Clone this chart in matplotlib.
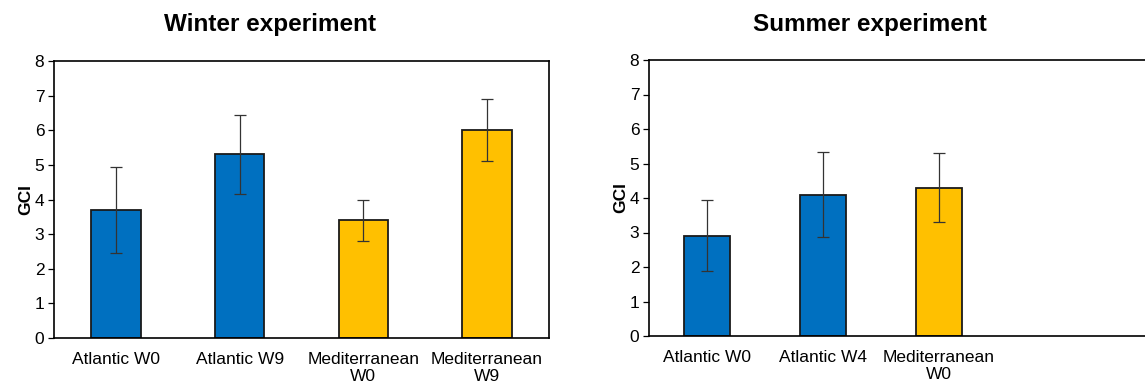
import matplotlib
matplotlib.use("Agg")
import matplotlib.pyplot as plt

plt.rcParams['font.family'] = ['Liberation Sans', 'DejaVu Sans']

winter_labels = ["Atlantic W0", "Atlantic W9", "Mediterranean\nW0", "Mediterranean\nW9"]
winter_values = [3.7, 5.3, 3.4, 6.0]
winter_errors = [1.25, 1.15, 0.6, 0.9]
winter_colors = ["#0070C0", "#0070C0", "#FFC000", "#FFC000"]

summer_labels = ["Atlantic W0", "Atlantic W4", "Mediterranean\nW0"]
summer_values = [2.9, 4.1, 4.3]
summer_errors = [1.03, 1.22, 1.0]
summer_colors = ["#0070C0", "#0070C0", "#FFC000"]

yticks = [0, 1, 2, 3, 4, 5, 6, 7, 8]

W, H = 1145, 385
fig = plt.figure(figsize=(W / 100, H / 100), dpi=100)

def px_axes(x0, y0, x1, y1):
    return fig.add_axes([x0 / W, 1 - y1 / H, (x1 - x0) / W, (y1 - y0) / H])

def draw(ax, labels, values, errors, colors, xmax):
    x = list(range(len(values)))
    ax.bar(x, values, width=0.4, color=colors, edgecolor="#1a1a1a", linewidth=1.3, zorder=2)
    ax.errorbar(x, values, yerr=errors, fmt="none", ecolor="#333333", elinewidth=0.9,
                capsize=4, capthick=0.9, zorder=3)
    ax.set_xlim(-0.5, xmax)
    ax.set_ylim(0, 8)
    ax.set_yticks(yticks)
    ax.set_xticks(x)
    ax.set_xticklabels(labels, fontsize=12.5, linespacing=1.2)
    ax.tick_params(axis="x", length=0, pad=10)
    ax.tick_params(axis="y", length=4, width=0.9, labelsize=12.5, pad=3)
    for s in ax.spines.values():
        s.set_linewidth(1.2)
        s.set_color("black")
    ax.set_ylabel("GCI", fontsize=12.5, fontweight="bold", labelpad=1)

ax1 = px_axes(54, 61, 549, 338)
draw(ax1, winter_labels, winter_values, winter_errors, winter_colors, 3.5)

ax2 = px_axes(649, 60, 1160, 336)
draw(ax2, summer_labels, summer_values, summer_errors, summer_colors, (1160 - 649) / 116 - 0.5)

fig.text(270 / W, 1 - 25 / H, "Winter experiment", ha="center", va="center",
         fontsize=17.5, fontweight="bold")
fig.text(870 / W, 1 - 25 / H, "Summer experiment", ha="center", va="center",
         fontsize=17.5, fontweight="bold")

fig.savefig("out.png", dpi=100)
